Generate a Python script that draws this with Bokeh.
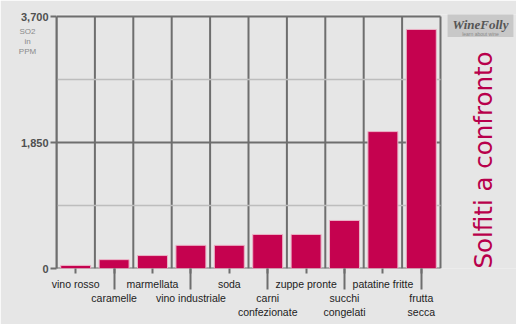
import math
from bokeh.plotting import figure
from bokeh.models import Range1d, FixedTicker, Label, NumeralTickFormatter
from bokeh.embed import file_html
from bokeh.resources import INLINE

categories = ["vino rosso", "caramelle", "marmellata", "vino industriale", "soda",
              "carni confezionate", "zuppe pronte", "succhi congelati",
              "patatine fritte", "frutta secca"]
tick_labels = ["vino rosso", "\ncaramelle", "marmellata", "\nvino industriale", "soda",
               "\ncarni\nconfezionate", "zuppe pronte", "\nsucchi\ncongelati",
               "patatine fritte", "\nfrutta\nsecca"]
so2_ppm = [45, 130, 190, 340, 340, 500, 500, 705, 2010, 3510]
y_ticks = [0, 1850, 3700]
y_minor_grid = [925, 2775]
y_unit_text = "SO2\nin\nPPM"
title_text = "Solfiti a confronto"
logo_text = "WineFolly"
logo_sub = "learn about wine"

n = len(categories)
xs = list(range(n))
y_max = y_ticks[-1]

BG = "#e6e6e6"
GRID = "#6e6e6e"
LIGHT = "#bdbdbd"
BAR = "#c5024f"

# frame: x from 56px to 516px (38.4 px per category), y from 14px to 268px
px_x = 38.4
px_y = y_max / 252.0
x_start = -0.5
x_end = x_start + 460 / px_x
y_end = 254 * px_y

p = figure(width=516, height=324, x_range=Range1d(x_start, x_end),
           y_range=Range1d(0, y_end), output_backend="svg", toolbar_location=None,
           min_border_left=56, min_border_right=0, min_border_top=14,
           min_border_bottom=56)
p.background_fill_color = BG
p.border_fill_color = BG
p.outline_line_color = None
p.xgrid.visible = False
p.ygrid.visible = False

# grid lines limited to the plot area
edges = [i - 0.5 for i in range(n + 1)]
p.segment(x0=edges, y0=[0] * len(edges), x1=edges, y1=[y_max] * len(edges),
          line_color=GRID, line_width=2)
p.segment(x0=[x_start] * len(y_minor_grid), y0=y_minor_grid,
          x1=[n - 0.5] * len(y_minor_grid), y1=y_minor_grid,
          line_color=LIGHT, line_width=1.5)
p.segment(x0=[x_start] * len(y_ticks), y0=y_ticks,
          x1=[n - 0.5] * len(y_ticks), y1=y_ticks,
          line_color=GRID, line_width=2)

# bars
p.vbar(x=xs, top=so2_ppm, bottom=0, width=0.78, fill_color=BAR,
       line_color="#eab3c6", line_width=1)

# x axis
xa = p.xaxis[0]
xa.ticker = FixedTicker(ticks=xs, minor_ticks=xs[1::2])
xa.major_label_overrides = {i: t for i, t in zip(xs, tick_labels)}
xa.axis_line_color = None
xa.major_tick_line_color = GRID
xa.major_tick_line_width = 2
xa.major_tick_in = 0
xa.major_tick_out = 5
xa.minor_tick_line_color = GRID
xa.minor_tick_line_width = 2
xa.minor_tick_in = 0
xa.minor_tick_out = 21
xa.major_label_standoff = -12
xa.major_label_text_font = "Liberation Sans"
xa.major_label_text_font_size = "10.5px"
xa.major_label_text_color = "#222222"

# y axis
ya = p.yaxis[0]
ya.ticker = FixedTicker(ticks=y_ticks)
ya.bounds = (0, y_max)
ya.formatter = NumeralTickFormatter(format="0,0")
ya.axis_line_color = GRID
ya.axis_line_width = 2
ya.major_tick_line_color = GRID
ya.major_tick_line_width = 2
ya.major_tick_in = 0
ya.major_tick_out = 6
ya.minor_tick_out = 0
ya.minor_tick_in = 0
ya.major_label_standoff = 2
ya.major_label_text_font = "Liberation Sans"
ya.major_label_text_font_style = "bold"
ya.major_label_text_font_size = "11px"
ya.major_label_text_color = "#505050"

# "SO2 in PPM" under the top tick label
p.add_layout(Label(x=x_start - 29 / px_x, y=y_max - 10 * px_y, text=y_unit_text,
                   text_align="center", text_baseline="top",
                   text_font="Liberation Sans", text_font_size="8px",
                   text_line_height=1.15, text_color="#8a8a8a"), "left")

# vertical title on the right
p.add_layout(Label(x=x_start + 427 / px_x, y=0, text=title_text, angle=math.pi / 2,
                   text_align="left", text_baseline="middle",
                   text_font="DejaVu Sans", text_font_size="24.5px",
                   text_color="#b8004b"))

# logo
lx = x_start + 424 / px_x
p.add_layout(Label(x=lx, y=(268 - 24) * px_y, text=logo_text, text_align="center",
                   text_baseline="middle", text_font="Liberation Serif",
                   text_font_style="bold italic", text_font_size="13px",
                   text_color="#555555", background_fill_color="#c8c8c8",
                   padding=5))
p.add_layout(Label(x=lx, y=(268 - 33) * px_y, text=logo_sub, text_align="center",
                   text_baseline="middle", text_font="Liberation Sans",
                   text_font_size="5px", text_color="#8a8a8a"))

open("out.html", "w").write(file_html(p, INLINE))
